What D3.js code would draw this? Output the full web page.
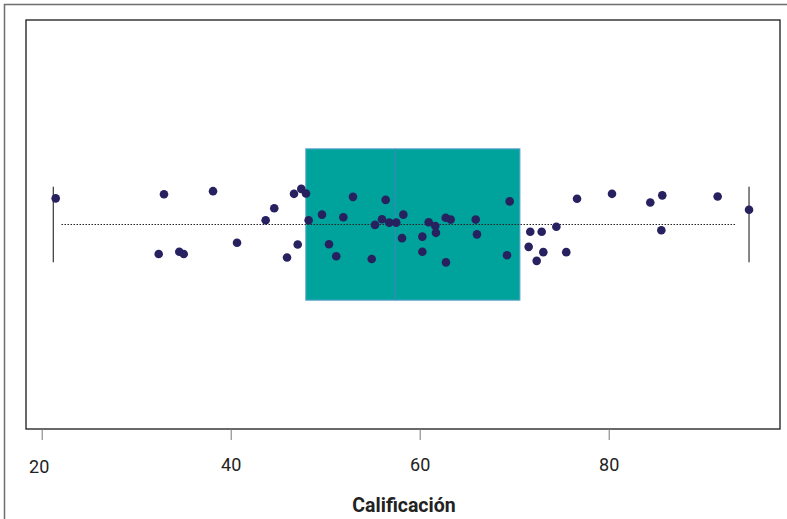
<!DOCTYPE html>
<meta charset="utf-8">
<script src="https://d3js.org/d3.v7.min.js"></script>
<style type="text/css">
body { margin: 0; background: #fff; }
svg { display: block; font-family: Roboto, "Noto Sans", sans-serif; }
</style>
<body></body>
<script>

// data
var scores = [21.48, 32.94, 32.38, 34.56, 35.03, 38.13, 40.67, 43.70, 44.61, 45.96,
  46.70, 47.09, 47.47, 47.97, 48.25, 49.66, 50.40, 51.17, 51.92, 52.94,
  54.92, 55.27, 56.01, 56.40, 56.78, 57.52, 58.13, 58.27, 60.28, 60.28,
  60.95, 61.65, 61.72, 62.75, 63.28, 62.78, 65.93, 66.06, 69.24, 69.52,
  71.53, 71.70, 72.38, 72.91, 73.08, 74.46, 75.51, 76.65, 80.35, 84.40,
  85.67, 85.57, 91.53, 94.85];
var jitter = [0.069, 0.080, -0.078, -0.072, -0.078, 0.088, -0.048, 0.011, 0.043, -0.087,
  0.081, -0.053, 0.094, 0.082, 0.011, 0.026, -0.052, -0.084, 0.019, 0.073,
  -0.091, -0.001, 0.014, 0.065, 0.005, 0.005, -0.036, 0.026, -0.032, -0.072,
  0.006, -0.004, -0.022, 0.018, 0.013, -0.100, 0.013, -0.026, -0.081, 0.061,
  -0.059, -0.019, -0.096, -0.019, -0.073, -0.006, -0.073, 0.068, 0.081, 0.058,
  0.077, -0.015, 0.074, 0.039];

// box stats: lower whisker, Q1, median, Q3, upper whisker
var boxStats = [21.23, 47.94, 57.42, 70.61, 94.85];
var refLine = [22.1, 93.4];
var tickValues = [20, 40, 60, 80];
var xLabel = "Calificación";

var W = 787, H = 519;
var plot = {left: 26, right: 780, top: 20, bottom: 429};

var svg = d3.select("body").append("svg")
    .attr("width", W)
    .attr("height", H);

// outer frame (only left/top visible)
svg.append("rect")
    .attr("x", 4.5).attr("y", 4.5)
    .attr("width", 900).attr("height", 700)
    .attr("fill", "none")
    .attr("stroke", "#6e6e6e")
    .attr("stroke-width", 1.5);

var x = d3.scaleLinear()
    .domain([20, 80])
    .range([41.7, 608.7]);

var y = d3.scaleLinear()
    .domain([0.46, 1.54])
    .range([plot.bottom, plot.top]);

// box
svg.append("rect")
    .attr("x", x(boxStats[1]))
    .attr("y", y(1.2))
    .attr("width", x(boxStats[3]) - x(boxStats[1]))
    .attr("height", y(0.8) - y(1.2))
    .attr("fill", "#00a39c")
    .attr("stroke", "#6fa8d6")
    .attr("stroke-width", 1);

svg.append("line")
    .attr("x1", x(boxStats[2])).attr("x2", x(boxStats[2]))
    .attr("y1", y(1.2)).attr("y2", y(0.8))
    .attr("stroke", "#3f86bf")
    .attr("stroke-width", 1);

// whisker staples
svg.selectAll(".staple")
  .data([boxStats[0], boxStats[4]])
  .enter().append("line")
    .attr("class", "staple")
    .attr("x1", d => x(d)).attr("x2", d => x(d))
    .attr("y1", y(1.1)).attr("y2", y(0.9))
    .attr("stroke", "#444")
    .attr("stroke-width", 1.3);

// dotted line
svg.append("line")
    .attr("x1", x(refLine[0])).attr("x2", x(refLine[1]))
    .attr("y1", y(1)).attr("y2", y(1))
    .attr("stroke", "#222")
    .attr("stroke-width", 1)
    .attr("stroke-dasharray", "1.5,1.5");

// points
svg.selectAll(".pt")
  .data(scores)
  .enter().append("circle")
    .attr("class", "pt")
    .attr("cx", d => x(d))
    .attr("cy", (d, i) => y(1 + jitter[i]))
    .attr("r", 4.3)
    .attr("fill", "#28215f");

// plot frame
svg.append("rect")
    .attr("x", plot.left).attr("y", plot.top)
    .attr("width", plot.right - plot.left)
    .attr("height", plot.bottom - plot.top)
    .attr("fill", "none")
    .attr("stroke", "#1a1a1a")
    .attr("stroke-width", 1.3);

// x axis
var xAxis = d3.axisBottom(x)
    .tickValues(tickValues)
    .tickSize(11)
    .tickPadding(16);

var axisG = svg.append("g")
    .attr("transform", `translate(0,${plot.bottom})`)
    .call(xAxis);

axisG.select(".domain").remove();
axisG.selectAll(".tick line")
    .attr("stroke", "#777");
axisG.selectAll(".tick text")
    .attr("fill", "#222")
    .style("font-size", "18px")
    .style("font-family", "Roboto, sans-serif")
    .attr("dx", (d, i) => i === 0 ? -3 : 0)
    .attr("dy", (d, i) => i === 0 ? "0.95em" : "0.82em");

svg.append("text")
    .attr("x", (plot.left + plot.right) / 2 + 1)
    .attr("y", 511.5)
    .attr("text-anchor", "middle")
    .attr("fill", "#222")
    .style("font-size", "19.5px")
    .style("font-weight", "bold")
    .text(xLabel);

</script>
